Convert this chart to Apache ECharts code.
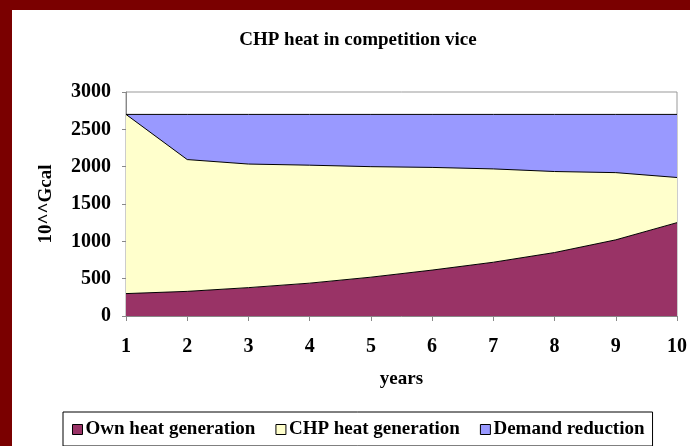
<!DOCTYPE html>
<html lang="en">
<head>
    <meta charset="UTF-8">
    <title>CHP heat in competition vice</title>
    <script src="https://cdn.jsdelivr.net/npm/echarts@6/dist/echarts.min.js"></script>
    <style>
        html, body { margin: 0; padding: 0; }
        body { background-color: #7a0000; width: 690px; height: 446px; position: relative; overflow: hidden; }
        #container { position: absolute; left: 12px; top: 10px; width: 678px; height: 436px; background: #fff; }
    </style>
</head>
<body>
<div id="container"></div>
<script type="text/javascript">
    // data
    const years = ['1', '2', '3', '4', '5', '6', '7', '8', '9', '10'];
    const ownHeat = [300, 330, 380, 440, 520, 615, 720, 850, 1020, 1250];
    const chpHeat = [2400, 1765, 1655, 1580, 1480, 1375, 1250, 1085, 900, 605];
    const demandReduction = [0, 605, 665, 680, 700, 710, 730, 765, 780, 845];
    const seriesNames = ['Own heat generation', 'CHP heat generation', 'Demand reduction'];
    const colors = ['#993366', '#ffffcc', '#9999ff'];

    const font = '"Liberation Serif", "Times New Roman", serif';
    let myChart = echarts.init(document.getElementById('container'));

    function areaSeries(name, data, color) {
        return {
            name: name,
            type: 'line',
            stack: 'total',
            data: data,
            symbol: 'none',
            smooth: false,
            lineStyle: { color: '#000', width: 1 },
            itemStyle: { color: color, borderColor: '#000', borderWidth: 1 },
            areaStyle: { color: color, opacity: 1 },
            emphasis: { disabled: true }
        };
    }

    let option = {
        animation: false,
        title: {
            text: 'CHP heat in competition vice',
            left: 341,
            textAlign: 'center',
            top: 16,
            textStyle: { fontFamily: font, fontSize: 19, fontWeight: 'bold', color: '#000' }
        },
        grid: {
            left: 114, right: 13, top: 82, bottom: 130,
            show: true, borderColor: '#999', borderWidth: 1,
            backgroundColor: '#fff'
        },
        legend: {
            left: 51,
            top: 402,
            icon: 'rect',
            itemWidth: 10,
            itemHeight: 10,
            itemGap: 20,
            padding: [8, 8, 7, 9],
            borderColor: '#000',
            borderWidth: 1,
            textStyle: { fontFamily: font, fontSize: 19, fontWeight: 'bold', color: '#000', padding: [0, 0, 0, -2] },
            data: seriesNames.map((n, i) => ({
                name: n,
                itemStyle: { color: colors[i], borderColor: '#000', borderWidth: 1 }
            }))
        },
        xAxis: {
            type: 'category',
            data: years,
            boundaryGap: false,
            name: 'years',
            nameLocation: 'middle',
            nameGap: 54,
            nameTextStyle: { fontFamily: font, fontSize: 19, fontWeight: 'bold', color: '#000' },
            axisLine: { lineStyle: { color: '#888', width: 1 } },
            axisTick: { show: true, length: 5, lineStyle: { color: '#888' } },
            axisLabel: { margin: 21, fontFamily: font, fontSize: 20, fontWeight: 'bold', color: '#000' },
            splitLine: { show: false }
        },
        yAxis: {
            type: 'value',
            min: 0,
            max: 3000,
            interval: 500,
            name: '10^^Gcal',
            nameLocation: 'middle',
            nameGap: 70,
            nameRotate: 90,
            nameTextStyle: { fontFamily: font, fontSize: 19, fontWeight: 'bold', color: '#000' },
            axisLine: { show: true, lineStyle: { color: '#888', width: 1 } },
            axisTick: { show: true, length: 4, lineStyle: { color: '#888' } },
            axisLabel: {
                margin: 15, fontFamily: font, fontSize: 20, fontWeight: 'bold', color: '#000',
                formatter: function (v) { return String(v); }
            },
            splitLine: { show: false }
        },
        series: [
            areaSeries(seriesNames[0], ownHeat, colors[0]),
            areaSeries(seriesNames[1], chpHeat, colors[1]),
            areaSeries(seriesNames[2], demandReduction, colors[2])
        ]
    };
    myChart.setOption(option, true);
</script>
</body>
</html>
